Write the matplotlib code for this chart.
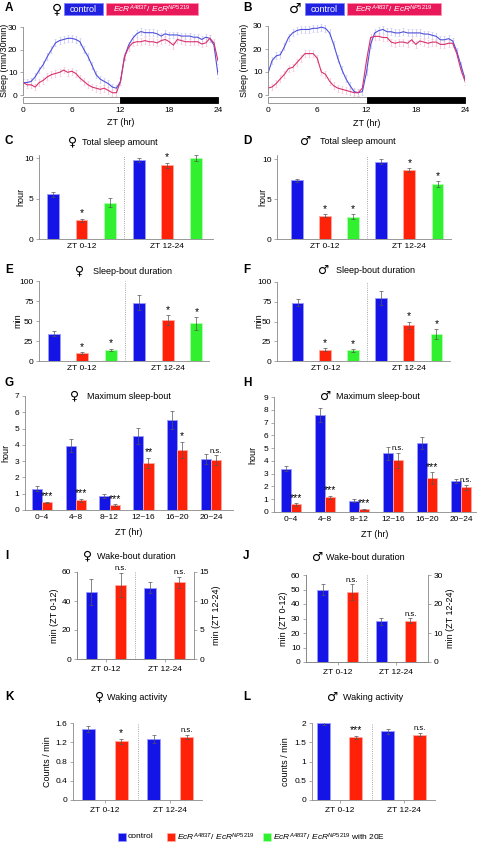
"""
Sleep phenotype of EcR mutant flies: twelve panels (A-L) on one page.
"""

import numpy as np
import matplotlib
matplotlib.use("Agg")
import matplotlib.pyplot as plt
from matplotlib.patches import Rectangle

plt.rcParams['font.family'] = ['Liberation Sans', 'DejaVu Sans']
plt.rcParams['mathtext.fontset'] = 'custom'
plt.rcParams['mathtext.rm'] = 'Liberation Sans'
plt.rcParams['mathtext.it'] = 'Liberation Sans:italic'
plt.rcParams['font.size'] = 6

W, H = 478, 842

# ---------------- data ----------------
zt_bins = np.arange(0, 24.5, 0.5)

# A: female sleep profile (min / 30 min)
sleep_f_ctrl = [5.5, 5.5, 6, 8, 11, 13.5, 17, 20, 23, 24, 24.5, 25, 25, 24.5, 23.5, 20, 17, 13,
                9, 7, 6, 5, 3.5, 3, 6, 17, 22, 25, 27, 28, 27.5, 27.5, 27.5, 27, 26, 27, 26.5,
                26.5, 26.5, 26, 26, 26, 25.5, 25.5, 24.5, 25.5, 25, 22, 9]
sleep_f_mut = [5.5, 4.5, 4.5, 3.5, 5.5, 6.5, 8, 9, 9.5, 10, 11, 10, 10.5, 9.5, 7.5, 6, 4.5, 3.5,
               3, 2.5, 3, 2, 1, 1, 6, 17, 21, 23, 23.5, 23.5, 24, 23.5, 23.5, 23, 24, 24.5, 23.5,
               22, 24.5, 24, 23.5, 23.5, 23.5, 23.5, 22.5, 23, 25, 23, 15]
# B: male sleep profile
sleep_m_ctrl = [9.5, 15, 17, 17.5, 21, 25, 27, 28, 28.5, 28.5, 28.5, 29, 29, 29.5, 29, 27, 22, 16,
                11, 7, 4, 1.5, 1, 1.5, 10, 22, 27, 28, 28.5, 27.5, 27.5, 27, 27, 27.5, 27, 27, 27,
                27, 26.5, 26.5, 26, 25.5, 24, 24, 24.5, 23.5, 19, 13, 7]
sleep_m_mut = [3, 3.5, 5, 7, 9, 11.5, 12, 14, 16, 18, 18, 18, 16, 10, 9, 6, 4, 3, 2.5, 2, 1.5, 1,
               1, 3, 15, 25, 25.5, 25.5, 25, 25, 23, 22.5, 23, 23, 22.5, 24, 22, 23.5, 23, 22.5,
               23, 23, 22, 22, 22.5, 22.5, 18, 11, 6]
sleep_sem = 1.5

# C/D: total sleep amount (hour), [ZT 0-12, ZT 12-24]
tot_f_ctrl, tot_f_ctrl_e = [5.5, 9.75], [0.3, 0.3]
tot_f_mut, tot_f_mut_e = [2.3, 9.1], [0.2, 0.3]
tot_f_20e, tot_f_20e_e = [4.5, 10.0], [0.6, 0.35]
tot_m_ctrl, tot_m_ctrl_e = [7.35, 9.65], [0.2, 0.3]
tot_m_mut, tot_m_mut_e = [2.9, 8.6], [0.2, 0.25]
tot_m_20e, tot_m_20e_e = [2.8, 6.85], [0.3, 0.4]

# E/F: sleep-bout duration (min)
bout_f_ctrl, bout_f_ctrl_e = [34, 73], [3, 9]
bout_f_mut, bout_f_mut_e = [10, 51], [1, 6]
bout_f_20e, bout_f_20e_e = [14, 47], [1.5, 8]
bout_m_ctrl, bout_m_ctrl_e = [74, 80], [5, 9]
bout_m_mut, bout_m_mut_e = [14.5, 45], [1.5, 5]
bout_m_20e, bout_m_20e_e = [13.5, 34], [1.5, 6.5]

# G/H: maximum sleep-bout (hour)
zt_windows = ['0~4', '4~8', '8~12', '12~16', '16~20', '20~24']
max_f_ctrl = [1.3, 3.95, 0.87, 4.55, 5.5, 3.15]
max_f_ctrl_e = [0.15, 0.4, 0.12, 0.5, 0.55, 0.3]
max_f_mut = [0.47, 0.6, 0.3, 2.9, 3.7, 3.05]
max_f_mut_e = [0.05, 0.1, 0.04, 0.3, 0.5, 0.3]
max_f_sig = ['***', '***', '***', '**', '*', 'n.s.']
max_m_ctrl = [3.4, 7.6, 0.9, 4.6, 5.4, 2.45]
max_m_ctrl_e = [0.2, 0.55, 0.08, 0.5, 0.5, 0.15]
max_m_mut = [0.6, 1.15, 0.22, 4.05, 2.65, 1.95]
max_m_mut_e = [0.1, 0.12, 0.03, 0.6, 0.45, 0.2]
max_m_sig = ['***', '***', '***', 'n.s.', '***', 'n.s.']

# I/J: wake-bout duration (min); ZT 0-12 on left axis, ZT 12-24 on right axis
wake_f_ctrl, wake_f_ctrl_e = [46, 12.3], [9, 1.0]
wake_f_mut, wake_f_mut_e = [51, 13.2], [8.5, 1.0]
wake_m_ctrl, wake_m_ctrl_e = [50, 14.0], [4, 1.3]
wake_m_mut, wake_m_mut_e = [48, 14.2], [5.5, 0.9]

# K/L: waking activity (counts / min)
act_f_ctrl, act_f_ctrl_e = [1.47, 1.27], [0.06, 0.08]
act_f_mut, act_f_mut_e = [1.22, 1.31], [0.05, 0.05]
act_m_ctrl, act_m_ctrl_e = [2.0, 1.78], [0.05, 0.07]
act_m_mut, act_m_mut_e = [1.63, 1.7], [0.04, 0.05]

halves = ['ZT 0-12', 'ZT 12-24']

# ---------------- style ----------------
BLUE, BLUE_EDGE = '#1414e6', '#9a9aff'
RED, RED_EDGE = '#ff2208', '#ffaaa0'
GREEN, GREEN_EDGE = '#30f030', '#b0ffb0'
LINE_CTRL, LINE_MUT = '#5050dc', '#d8306e'
ERR = '#555555'
AX_GRAY = '#888888'
EKW = dict(elinewidth=0.5, capsize=1.2, capthick=0.5, ecolor=ERR)
FEMALE, MALE = '\u2640', '\u2642'

GENO = r'$\mathit{EcR}^{\mathit{A483T}}$/ $\mathit{EcR}^{\mathit{NP5219}}$'

fig = plt.figure(figsize=(W / 100, H / 100), dpi=100, facecolor='white')


def add_ax(x0, x1, ytop, ybot):
    return fig.add_axes([x0 / W, 1 - ybot / H, (x1 - x0) / W, (ybot - ytop) / H])


def style(ax, right=False):
    for s in ['top', 'right']:
        ax.spines[s].set_visible(False)
    if right:
        ax.spines['right'].set_visible(True)
    for s in ax.spines.values():
        s.set_color(AX_GRAY)
        s.set_linewidth(0.6)
    ax.tick_params(colors=AX_GRAY, labelcolor='black', labelsize=6, width=0.5, length=2, pad=2)


def star(ax, x, top, txt):
    ax.annotate(txt, (x, top), xytext=(0, 0.3), textcoords='offset points',
                ha='center', va='bottom', fontsize=5.5 if txt == 'n.s.' else 7.5)


# ---------------- A / B: sleep profiles ----------------
def profile(x0, x1, y0px, y30px, ctrl, mut):
    ppu = (y0px - y30px) / 30.0
    ax = add_ax(x0, x1, y0px - 31 * ppu, y0px + 3.6 * ppu)
    ax.errorbar(zt_bins, ctrl, yerr=sleep_sem, color=LINE_CTRL, lw=0.8,
                ecolor='#c4c4f2', elinewidth=0.5, capsize=0.8, capthick=0.4)
    ax.errorbar(zt_bins, mut, yerr=sleep_sem, color=LINE_MUT, lw=0.8,
                ecolor='#f2c0d2', elinewidth=0.5, capsize=0.8, capthick=0.4)
    ax.add_patch(Rectangle((0, -3.5), 12, 2.6, facecolor='white', edgecolor=AX_GRAY,
                           lw=0.6, clip_on=False))
    ax.add_patch(Rectangle((12, -3.5), 12, 2.6, facecolor='black', edgecolor='black',
                           lw=0.6, clip_on=False))
    ax.set_xlim(0, 24)
    ax.set_ylim(-3.6, 31)
    style(ax)
    ax.spines['bottom'].set_visible(False)
    ax.spines['left'].set_bounds(0, 30)
    ax.set_yticks([0, 10, 20, 30])
    ax.set_xticks([0, 6, 12, 18, 24])
    ax.tick_params(axis='x', length=0, pad=3)
    ax.set_xlabel('ZT (hr)', fontsize=6.5, labelpad=3)
    return ax


profile(23, 218, 95, 27, sleep_f_ctrl, sleep_f_mut)
profile(268, 465, 95, 26, sleep_m_ctrl, sleep_m_mut)


# ---------------- C-F: three-bar panels ----------------
def three_bar(x0, x1, ytop, ybot, xlim, ylim, yticks, data, stars):
    ax = add_ax(x0, x1, ytop, ybot)
    cols = [(BLUE, BLUE_EDGE), (RED, RED_EDGE), (GREEN, GREEN_EDGE)]
    for g in range(2):
        for k, (vals, errs) in enumerate(data):
            ax.bar(3 * g + k, vals[g], 0.42, color=cols[k][0], edgecolor=cols[k][1],
                   linewidth=0.6, yerr=errs[g], error_kw=EKW)
    for pos, txt in stars:
        g, k = divmod(pos, 3)
        star(ax, pos, data[k][0][g] + data[k][1][g], txt)
    ax.axvline(2.5, ls=':', color=AX_GRAY, lw=0.6)
    ax.set_xlim(*xlim)
    ax.set_ylim(*ylim)
    ax.set_yticks(yticks)
    ax.set_xticks([1, 4])
    ax.set_xticklabels(halves)
    style(ax)
    ax.tick_params(axis='x', length=0, pad=3)
    return ax


three_bar(39, 213, 154.8, 239, (-0.49, 5.61), (0, 10.4), [0, 5, 10],
          [(tot_f_ctrl, tot_f_ctrl_e), (tot_f_mut, tot_f_mut_e), (tot_f_20e, tot_f_20e_e)],
          [(1, '*'), (4, '*')])
three_bar(277, 451, 155, 239, (-0.71, 5.48), (0, 10.5), [0, 5, 10],
          [(tot_m_ctrl, tot_m_ctrl_e), (tot_m_mut, tot_m_mut_e), (tot_m_20e, tot_m_20e_e)],
          [(1, '*'), (2, '*'), (4, '*'), (5, '*')])
three_bar(39, 209, 281, 361, (-0.51, 5.44), (0, 100), [0, 25, 50, 75, 100],
          [(bout_f_ctrl, bout_f_ctrl_e), (bout_f_mut, bout_f_mut_e), (bout_f_20e, bout_f_20e_e)],
          [(1, '*'), (2, '*'), (4, '*'), (5, '*')])
three_bar(277, 450, 282, 361, (-0.74, 5.49), (0, 100), [0, 25, 50, 75, 100],
          [(bout_m_ctrl, bout_m_ctrl_e), (bout_m_mut, bout_m_mut_e), (bout_m_20e, bout_m_20e_e)],
          [(1, '*'), (2, '*'), (4, '*'), (5, '*')])


# ---------------- G / H: maximum sleep-bout ----------------
def max_bout(x0, x1, ytop, ybot, xlim, ymax, ctrl, ctrl_e, mut, mut_e, sig):
    ax = add_ax(x0, x1, ytop, ybot)
    x = np.arange(len(zt_windows))
    ax.bar(x - 0.15, ctrl, 0.3, color=BLUE, edgecolor=BLUE_EDGE, linewidth=0.6,
           yerr=ctrl_e, error_kw=EKW)
    ax.bar(x + 0.15, mut, 0.3, color=RED, edgecolor=RED_EDGE, linewidth=0.6,
           yerr=mut_e, error_kw=EKW)
    for i, txt in enumerate(sig):
        star(ax, x[i] + 0.15, mut[i] + mut_e[i], txt)
    ax.set_xlim(*xlim)
    ax.set_ylim(0, ymax)
    ax.set_yticks(range(0, ymax + 1))
    ax.set_xticks(x)
    ax.set_xticklabels(zt_windows)
    style(ax)
    ax.tick_params(axis='x', length=0, pad=3)
    ax.set_xlabel('ZT (hr)', fontsize=6.5, labelpad=5)
    return ax


max_bout(25, 233, 396, 510, (-0.5, 5.65), 7, max_f_ctrl, max_f_ctrl_e,
         max_f_mut, max_f_mut_e, max_f_sig)
max_bout(274, 476, 397, 512, (-0.5, 5.44), 9, max_m_ctrl, max_m_ctrl_e,
         max_m_mut, max_m_mut_e, max_m_sig)


# ---------------- I / J: wake-bout duration (two y axes) ----------------
def wake_bout(x0, x1, ytop, ybot, xlim, rmax, ctrl, ctrl_e, mut, mut_e):
    ax = add_ax(x0, x1, ytop, ybot)
    ax2 = ax.twinx()
    for a, g in [(ax, 0), (ax2, 1)]:
        a.bar(2 * g, ctrl[g], 0.38, color=BLUE, edgecolor=BLUE_EDGE, linewidth=0.6,
              yerr=ctrl_e[g], error_kw=EKW)
        a.bar(2 * g + 1, mut[g], 0.38, color=RED, edgecolor=RED_EDGE, linewidth=0.6,
              yerr=mut_e[g], error_kw=EKW)
        star(a, 2 * g + 1, mut[g] + mut_e[g], 'n.s.')
    ax.axvline(1.5, ls=':', color=AX_GRAY, lw=0.6)
    ax.set_xlim(*xlim)
    ax.set_ylim(0, 60)
    ax2.set_ylim(0, rmax)
    ax.set_xticks([0.5, 2.5])
    ax.set_xticklabels(halves)
    style(ax)
    style(ax2, right=True)
    ax.tick_params(axis='x', pad=3)
    ax.set_ylabel('min (ZT 0-12)', fontsize=6.5, labelpad=2)
    ax2.set_ylabel('min (ZT 12-24)', fontsize=6.5, labelpad=2)
    return ax


ax_i = wake_bout(77, 194, 572, 659, (-0.49, 3.5), 15, wake_f_ctrl, wake_f_ctrl_e,
                 wake_f_mut, wake_f_mut_e)
ax_i.set_yticks([0, 20, 40, 60])
ax_j = wake_bout(306, 428, 575, 662, (-0.58, 3.6), 30, wake_m_ctrl, wake_m_ctrl_e,
                 wake_m_mut, wake_m_mut_e)
ax_j.set_yticks(range(0, 61, 10))


# ---------------- K / L: waking activity ----------------
def activity(x0, x1, ytop, ybot, xlim, ymax, yticks, ylab, ctrl, ctrl_e, mut, mut_e, sig):
    ax = add_ax(x0, x1, ytop, ybot)
    for g in range(2):
        ax.bar(2 * g, ctrl[g], 0.4, color=BLUE, edgecolor=BLUE_EDGE, linewidth=0.6,
               yerr=ctrl_e[g], error_kw=EKW)
        ax.bar(2 * g + 1, mut[g], 0.4, color=RED, edgecolor=RED_EDGE, linewidth=0.6,
               yerr=mut_e[g], error_kw=EKW)
        star(ax, 2 * g + 1, mut[g] + mut_e[g], sig[g])
    ax.axvline(1.5, ls=':', color=AX_GRAY, lw=0.6)
    ax.set_xlim(*xlim)
    ax.set_ylim(0, ymax)
    ax.set_yticks(yticks)
    ax.set_xticks([0.5, 2.5])
    ax.set_xticklabels(halves)
    style(ax)
    ax.tick_params(axis='x', pad=3)
    ax.set_ylabel(ylab, fontsize=6.5, labelpad=3)
    return ax


ax_k = activity(73, 202, 723, 800, (-0.47, 3.47), 1.6, [0, 0.4, 0.8, 1.2, 1.6], 'Counts / min',
                act_f_ctrl, act_f_ctrl_e, act_f_mut, act_f_mut_e, ['*', 'n.s.'])
ax_k.set_yticklabels(['0', '0.4', '0.8', '1.2', '1.6'])
ax_l = activity(312, 435, 723, 800, (-0.36, 3.48), 2, [0, 0.5, 1, 1.5, 2], 'counts / min',
                act_m_ctrl, act_m_ctrl_e, act_m_mut, act_m_mut_e, ['***', 'n.s.'])
ax_l.set_yticklabels(['0', '0.5', '1', '1.5', '2'])

# ---------------- overlay: letters, titles, labels, legends ----------------
ov = fig.add_axes([0, 0, 1, 1])
ov.set_xlim(0, W)
ov.set_ylim(H, 0)
ov.axis('off')

letters = [('A', 5, 8), ('B', 243, 8), ('C', 5, 141), ('D', 243, 141), ('E', 5, 270),
           ('F', 243, 270), ('G', 5, 383), ('H', 243, 383), ('I', 5, 556), ('J', 243, 556),
           ('K', 5, 697), ('L', 243, 697)]
for s, x, y in letters:
    ov.text(x, y, s, fontsize=8.5, fontweight='bold', ha='left', va='center')

# (symbol, symbol x, text left x, y, title)
titles = [(FEMALE, 73, 82, 142, 'Total sleep amount'),
          (MALE, 306, 320, 141, 'Total sleep amount'),
          (FEMALE, 80, 93, 271, 'Sleep-bout duration'),
          (MALE, 324, 336, 270, 'Sleep-bout duration'),
          (FEMALE, 75, 87, 396, 'Maximum sleep-bout'),
          (MALE, 326, 336, 396, 'Maximum sleep-bout'),
          (FEMALE, 88, 97, 556, 'Wake-bout duration'),
          (MALE, 318, 326, 557, 'Wake-bout duration'),
          (FEMALE, 100, 107, 697, 'Waking activity'),
          (MALE, 333, 343, 697, 'Waking activity')]
for sym, sx, tx, y, s in titles:
    ov.text(sx, y, sym, fontsize=9, family='DejaVu Sans', ha='center', va='center')
    ov.text(tx, y + 0.5, s, fontsize=6.5, ha='left', va='center')

ylabels = [('Sleep (min/30min)', 5, 60), ('Sleep (min/30min)', 245, 60),
           ('hour', 21, 197), ('hour', 263, 197), ('min', 18, 321), ('min', 259, 321),
           ('hour', 6, 453), ('hour', 253, 455)]
for s, x, y in ylabels:
    ov.text(x, y, s, fontsize=6.5, rotation=90, ha='center', va='center')

# top legends for A and B
for sym, xs, bx0, bx1, rx0, rx1 in [(FEMALE, 57, 64, 103, 106, 198),
                                    (MALE, 295, 305, 344, 347, 441)]:
    ov.text(xs, 9, sym, fontsize=10, family='DejaVu Sans', ha='center', va='center')
    ov.add_patch(Rectangle((bx0, 3), bx1 - bx0, 12, facecolor='#2020e0', edgecolor='#8080ff', lw=0.6))
    ov.text((bx0 + bx1) / 2, 9.5, 'control', color='white', fontsize=6.5, ha='center', va='center')
    ov.add_patch(Rectangle((rx0, 3), rx1 - rx0, 12, facecolor='#e8185a', edgecolor='#ff90b0', lw=0.6))
    ov.text((rx0 + rx1) / 2, 9.5, GENO, color='white', fontsize=6, ha='center', va='center')

# bottom legend
for col, edge, x, label in [(BLUE, BLUE_EDGE, 118, 'control'),
                            (RED, RED_EDGE, 167, GENO),
                            (GREEN, GREEN_EDGE, 263, GENO + ' with 20E')]:
    ov.add_patch(Rectangle((x, 833), 8, 8, facecolor=col, edgecolor=edge, lw=0.5))
    ov.text(x + 10, 837, label, fontsize=6, ha='left', va='center')

plt.savefig('out.png', dpi=100, facecolor='white')
plt.close()
